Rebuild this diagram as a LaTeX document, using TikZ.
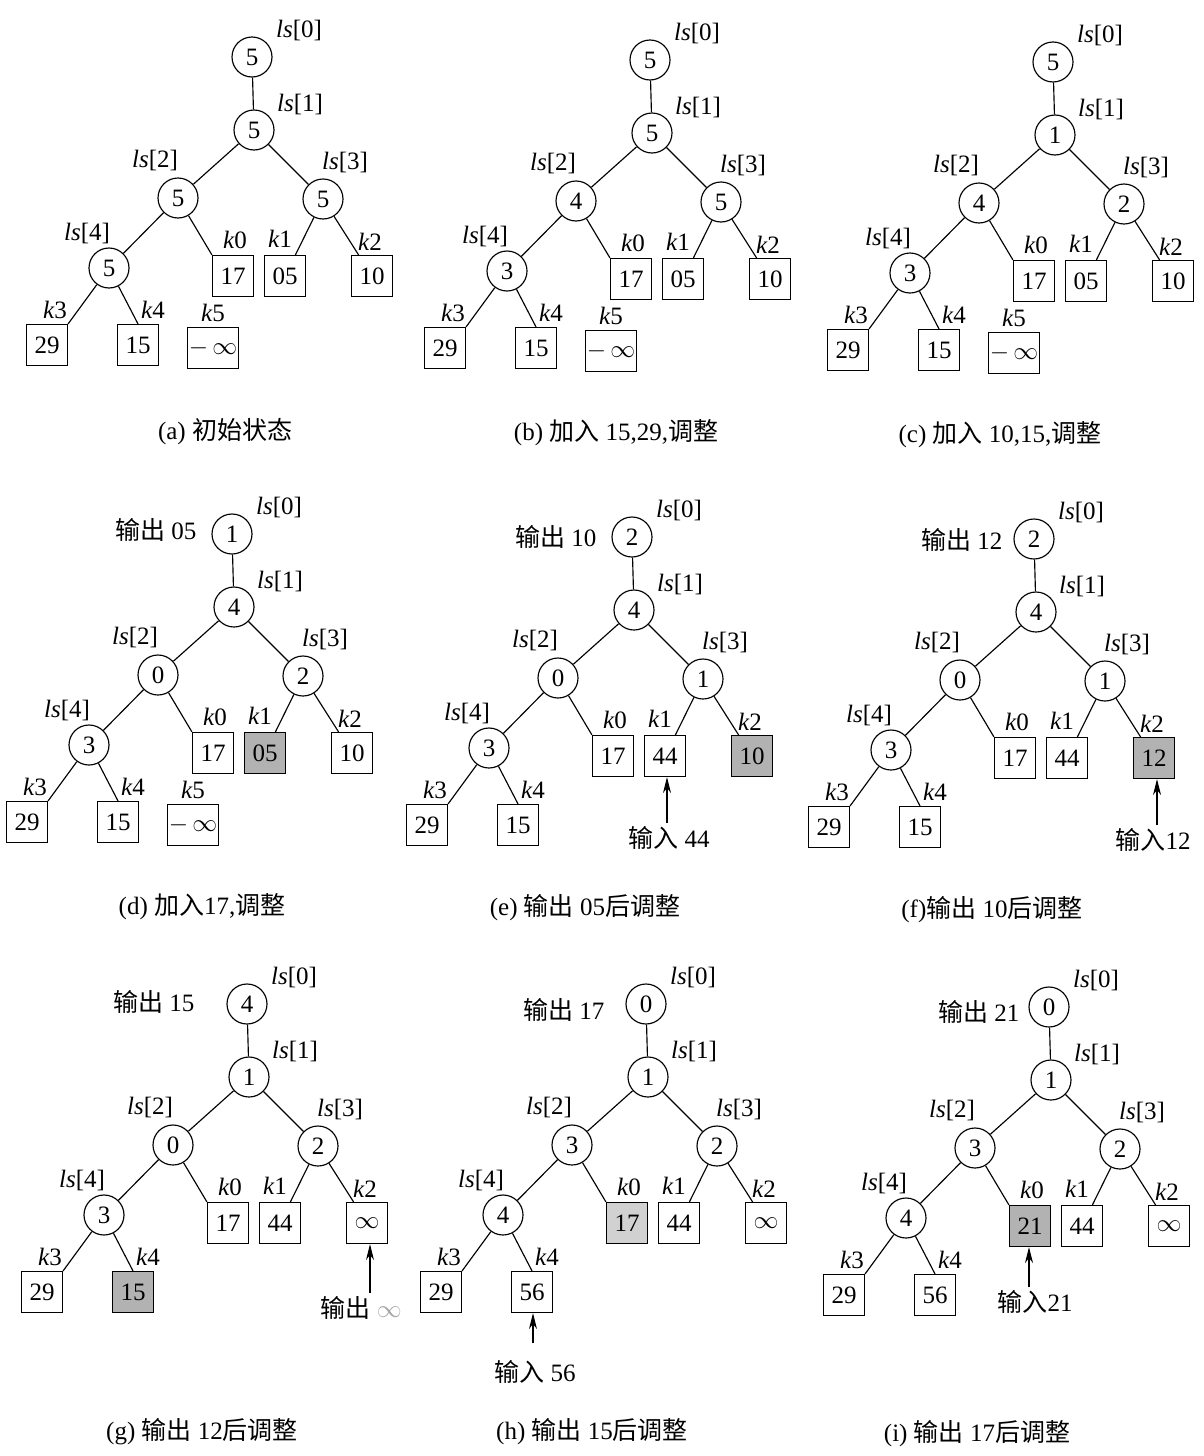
\documentclass[tikz,border=0pt]{standalone}
\usepackage{fontspec}
\setmainfont{Liberation Serif}
\newfontfamily\cjk{Noto Sans CJK SC}
\usetikzlibrary{arrows.meta}
\newcommand\zh[1]{{\cjk #1}}
\newcommand\ltree[6]{%
  \node[lsn] (#1l0) at (0,0) {#2};
  \node[lsn] (#1l1) at (2,73) {#3};
  \node[lsn] (#1l2) at (-74,141) {#4};
  \node[lsn] (#1l3) at (71,142) {#5};
  \node[lsn] (#1l4) at (-143,211) {#6};
  \node[lab] (#1t0) at (47,-27) {\textit{ls}[0]};
  \node[lab] (#1t1) at (48,47) {\textit{ls}[1]};
  \node[lab] (#1t2) at (-97,103) {\textit{ls}[2]};
  \node[lab] (#1t3) at (93,105) {\textit{ls}[3]};
  \node[lab] (#1t4) at (-165,176) {\textit{ls}[4]};
  \draw (#1l0) -- (#1l1);
  \draw (#1l1) -- (#1l2);
  \draw (#1l1) -- (#1l3);
  \draw (#1l2) -- (#1l4);
}
\newcommand\lkeys[6]{%
  \node[kbox,k0s] (#1k0) at (-19,219) {#2};
  \node[kbox,k1s] (#1k1) at (33,219) {#3};
  \node[kbox,k2s] (#1k2) at (120,219) {#4};
  \node[kbox,k3s] (#1k3) at (-205,288) {#5};
  \node[kbox,k4s] (#1k4) at (-114,288) {#6};
  \node[lab] (#1u0) at (-17,183) {\textit{k}0};
  \node[lab] (#1u1) at (28,182) {\textit{k}1};
  \node[lab] (#1u2) at (118,185) {\textit{k}2};
  \node[lab] (#1u3) at (-197,253) {\textit{k}3};
  \node[lab] (#1u4) at (-99,253) {\textit{k}4};
  \draw (#1l2) -- (#1k0.north west);
  \draw (#1l3) -- (#1k1);
  \draw (#1l3) -- (#1k2);
  \draw (#1l4) -- (#1k3.north east);
  \draw (#1l4) -- (#1k4.north);
}
\newcommand\lfive[1]{%
  \node[wbox] (#1k5) at (-39,291) {$-\,\infty$};
  \node[lab] (#1u5) at (-39,256) {\textit{k}5};
}
\begin{document}
\begin{tikzpicture}[x=1pt,y=-1pt,
  font=\fontsize{25}{29}\selectfont,
  line width=1.15pt,
  lsn/.style={draw,circle,minimum size=40pt,inner sep=0pt,fill=white},
  kbox/.style={draw,minimum width=41pt,minimum height=41pt,inner sep=0pt},
  wbox/.style={draw,minimum width=51pt,minimum height=41pt,inner sep=0pt},
  lab/.style={inner sep=0pt},
  grayfill/.style={fill=black!30},
  lgrayfill/.style={fill=black!18},
  k0s/.style={},k1s/.style={},k2s/.style={},k3s/.style={},k4s/.style={},
  arr/.style={-{Stealth[length=16pt,width=8pt]}},
  captext/.style={inner sep=0pt}]
\useasboundingbox (0,0) rectangle (1204,1456);
\fill[white] (0,0) rectangle (1204,1456);

% (a)
\begin{scope}[shift={(252,57)}]
  \ltree{a}{5}{5}{5}{5}{5}
  \lkeys{a}{17}{05}{10}{29}{15}
  \lfive{a}
\end{scope}
\node[captext] (capa) at (225,432) {(a) \zh{初始状态}};

% (b)
\begin{scope}[shift={(650,60)}]
  \ltree{b}{5}{5}{4}{5}{3}
  \lkeys{b}{17}{05}{10}{29}{15}
  \lfive{b}
\end{scope}
\node[captext] (capb) at (616,433) {(b) \zh{加入} 15,29,\zh{调整}};

% (c)
\begin{scope}[shift={(1053,62)}]
  \ltree{c}{5}{1}{4}{2}{3}
  \lkeys{c}{17}{05}{10}{29}{15}
  \lfive{c}
\end{scope}
\node[captext] (capc) at (1000,435) {(c) \zh{加入} 10,15,\zh{调整}};

% (d)
\begin{scope}[shift={(232,534)},k1s/.style={grayfill}]
  \ltree{d}{1}{4}{0}{2}{3}
  \lkeys{d}{17}{05}{10}{29}{15}
  \lfive{d}
  \node[lab,anchor=east] (dout) at (-35,-4) {\zh{输出} 05};
\end{scope}
\node[captext] (capd) at (202,907) {(d) \zh{加入}17,\zh{调整}};

% (e)
\begin{scope}[shift={(632,537)},k2s/.style={grayfill}]
  \ltree{e}{2}{4}{0}{1}{3}
  \lkeys{e}{17}{44}{10}{29}{15}
  \node[lab,anchor=east] (eout) at (-35,0) {\zh{输出} 10};
  \coordinate (ein0) at (35,286);
  \node[lab] (ein) at (37,301) {\zh{输入} 44};
  \draw[arr] (ein0) -- (ein0 |- ek1.south);
\end{scope}
\node[captext] (cape) at (585,908) {(e) \zh{输出} 05\zh{后调整}};

% (f)
\begin{scope}[shift={(1034,539)},k2s/.style={grayfill}]
  \ltree{f}{2}{4}{0}{1}{3}
  \lkeys{f}{17}{44}{12}{29}{15}
  \node[lab,anchor=east] (fout) at (-31,1) {\zh{输出} 12};
  \coordinate (fin0) at (123,286);
  \node[lab] (fin) at (119,301) {\zh{输入}12};
  \draw[arr] (fin0) -- (fin0 |- fk2.south);
\end{scope}
\node[captext] (capf) at (992,910) {(f)\zh{输出} 10\zh{后调整}};

% (g)
\begin{scope}[shift={(247,1004)},k4s/.style={grayfill}]
  \ltree{g}{4}{1}{0}{2}{3}
  \lkeys{g}{17}{44}{$\infty$}{29}{15}
  \node[lab,anchor=east] (gout) at (-52,-2) {\zh{输出} 15};
  \coordinate (gin0) at (123,289);
  \node[lab,anchor=west] (gin) at (73,304) {\zh{输出} {\color{black!35}$\infty$}};
  \draw[arr] (gin0) -- (gin0 |- gk2.south);
\end{scope}
\node[captext] (capg) at (202,1432) {(g) \zh{输出} 12\zh{后调整}};

% (h)
\begin{scope}[shift={(646,1004)},k0s/.style={lgrayfill}]
  \ltree{h}{0}{1}{3}{2}{4}
  \lkeys{h}{17}{44}{$\infty$}{29}{56}
  \node[lab,anchor=east] (hout) at (-41,6) {\zh{输出} 17};
  \coordinate (hin0) at (-113,339);
  \node[lab] (hin) at (-111,368) {\zh{输入} 56};
  \draw[arr] (hin0) -- (hin0 |- hk4.south);
\end{scope}
\node[captext] (caph) at (592,1432) {(h) \zh{输出} 15\zh{后调整}};

% (i)
\begin{scope}[shift={(1049,1007)},k0s/.style={grayfill}]
  \ltree{i}{0}{1}{3}{2}{4}
  \lkeys{i}{21}{44}{$\infty$}{29}{56}
  \node[lab,anchor=east] (iout) at (-29,5) {\zh{输出} 21};
  \coordinate (iin0) at (-20,280);
  \node[lab] (iin) at (-14,295) {\zh{输入}21};
  \draw[arr] (iin0) -- (iin0 |- ik0.south);
\end{scope}
\node[captext] (capi) at (977,1434) {(i) \zh{输出} 17\zh{后调整}};
\end{tikzpicture}
\end{document}
